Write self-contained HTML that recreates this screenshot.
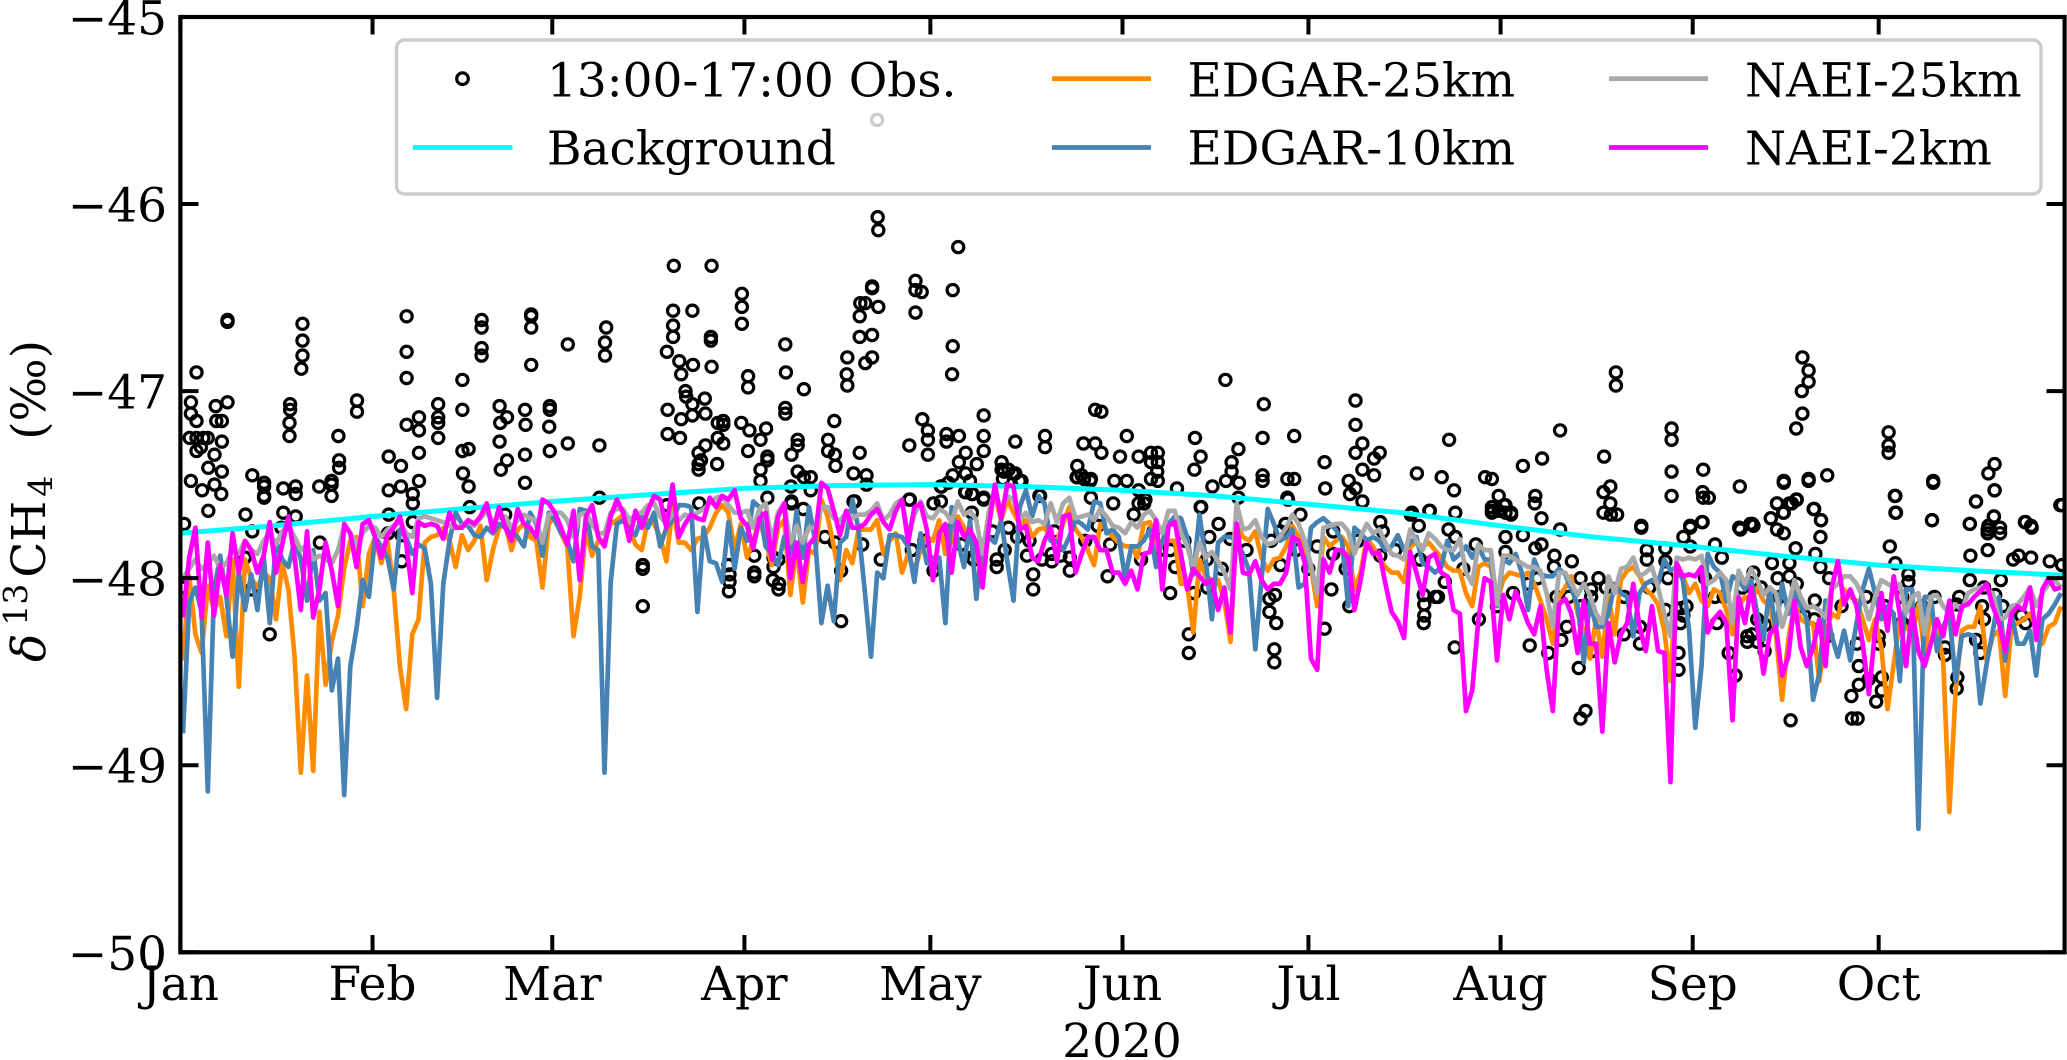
<!DOCTYPE html>
<html lang="en">
<head>
<meta charset="utf-8">
<title>δ13CH4 observations and model series, 2020</title>
<style>
html,body{margin:0;padding:0;background:#fff;}
svg{display:block;}
text{font-family:"DejaVu Serif","Liberation Serif",serif;fill:#000;}
</style>
</head>
<body>
<svg id="chart" xmlns="http://www.w3.org/2000/svg" width="2067" height="1060" viewBox="0 0 2067 1060">
  <defs><clipPath id="plot-clip"><rect x="180.4" y="17" width="1884.2" height="935.3"/></clipPath></defs>
  <g id="obs-layer" clip-path="url(#plot-clip)"></g>
  <g id="line-layer" clip-path="url(#plot-clip)"></g>
  <g id="tick-layer"></g>
  <rect x="180.4" y="17" width="1884.2" height="935.3" fill="none" stroke="#000" stroke-width="4.2"/>
  <text x="45" y="501" transform="rotate(-90 45 501)" font-size="47" text-anchor="middle"><tspan font-style="italic">δ</tspan><tspan font-size="33" dy="-18" dx="8">13</tspan><tspan dy="18" dx="6">CH</tspan><tspan font-size="33" dy="7" dx="4">4</tspan><tspan dy="-7" dx="21"> (‰)</tspan></text>
  <text x="1122" y="1057" font-size="47" text-anchor="middle">2020</text>
  <g>
    <rect x="396.5" y="40" width="1644.5" height="154" rx="8" ry="8" fill="#fff" fill-opacity="0.8" stroke="#cccccc" stroke-width="3.4"/>
    <g>
      <circle cx="462.5" cy="78.7" r="5.8" fill="none" stroke="#000" stroke-width="3.2"/>
      <text x="547" y="96.3" font-size="47">13:00-17:00 Obs.</text>
    </g>
    <g>
      <line x1="413" x2="512.5" y1="147.5" y2="147.5" stroke="#00ffff" stroke-width="4.8"/>
      <text x="547" y="164.5" font-size="47">Background</text>
    </g>
    <g>
      <line x1="1052" x2="1151" y1="78.7" y2="78.7" stroke="#ff8c00" stroke-width="4.8"/>
      <text x="1187.5" y="96.3" font-size="47">EDGAR-25km</text>
    </g>
    <g>
      <line x1="1052" x2="1151" y1="147.5" y2="147.5" stroke="#4682b4" stroke-width="4.8"/>
      <text x="1187.5" y="164.5" font-size="47">EDGAR-10km</text>
    </g>
    <g>
      <line x1="1609" x2="1708" y1="78.7" y2="78.7" stroke="#a9a9a9" stroke-width="4.8"/>
      <text x="1745" y="96.3" font-size="47">NAEI-25km</text>
    </g>
    <g>
      <line x1="1609" x2="1708" y1="147.5" y2="147.5" stroke="#ff00ff" stroke-width="4.8"/>
      <text x="1745" y="164.5" font-size="47">NAEI-2km</text>
    </g>
  </g>
</svg>
<script>
const monthLabels=['Jan','Feb','Mar','Apr','May','Jun','Jul','Aug','Sep','Oct'];
const monthStartDays=[0,31,60,91,121,152,182,213,244,274];
const yTickValues=[-45,-46,-47,-48,-49,-50];
const yTickLabels=['−45','−46','−47','−48','−49','−50'];

const backgroundDays=[0,15,31,45,60,75,91,105,121,136,152,167,182,197,213,228,244,258,274,289,304];
const backgroundValues=[-47.76,-47.72,-47.67,-47.63,-47.59,-47.555,-47.52,-47.505,-47.5,-47.51,-47.53,-47.56,-47.605,-47.65,-47.72,-47.78,-47.83,-47.88,-47.93,-47.96,-47.985];

const edgar25kmValues=[
-48.44,-47.99,-48.3,-48.4,-48.04,-48.17,-48.1,-48.31,-47.9,-48.58,-47.9,-48.0,-48.05,-47.97,-48.0,-48.22,-47.92,-48.06,-48.42,-49.04,-48.52,-49.03,-48.18,-48.57,-48.34,-48.2,-47.95,-47.8,-47.78,-48.15,-47.87,
-47.78,-47.92,-47.8,-48.06,-48.47,-48.7,-48.3,-48.22,-47.81,-47.78,-47.77,-47.73,-47.8,-47.94,-47.77,-47.85,-47.8,-47.72,-48.01,-47.85,
-47.73,-47.71,-47.85,-47.74,-47.71,-47.78,-47.8,-48.05,-47.71,-47.67,-47.76,-47.83,-48.31,-48.1,-47.74,-47.88,-47.8,-47.8,-47.71,-47.69,-47.66,-47.73,-47.82,-47.85,-47.69,-47.71,-47.78,-47.91,-47.62,-47.81,-47.81,-47.85,-47.79,-47.78,-47.73,-47.65,-47.61,-47.65,-47.85,-47.71,-47.89,-47.8,-47.69,-47.8,-47.93,-47.73,-47.69,-48.09,-47.83,-48.13,-47.85,
-47.87,-47.58,-47.67,-47.83,-48.01,-47.85,-47.92,-47.74,-47.74,-47.74,-47.69,-47.87,-47.8,-47.76,-47.97,-47.87,-47.96,-47.85,-47.78,-47.8,-47.69,-47.87,-47.8,-47.67,-47.73,-47.78,-47.9,-47.94,-47.65,-47.56,-47.69,-47.58,-47.65,-47.71,-47.69,-47.78,-47.74,-47.73,-47.78,-47.8,-47.71,-47.62,-47.74,-47.78,-47.85,-47.93,-47.71,-47.74,-47.78,-47.81,-47.83,
-47.83,-47.89,-47.71,-47.7,-47.85,-47.81,-47.8,-47.8,-48.03,-48.03,-48.29,-47.9,-47.99,-48.01,-48.01,-48.12,-48.34,-47.71,-47.78,-47.8,-47.75,-47.89,-47.96,-47.9,-47.89,-47.83,-47.72,-47.78,-47.85,-47.94,-48.15,-47.78,-47.83,-47.8,-47.78,-47.83,-48.06,-47.97,-47.79,-47.83,-47.89,-47.94,-47.97,-47.97,-48.02,-47.83,-47.81,-47.83,-47.81,-47.85,-47.89,
-47.94,-47.96,-47.96,-48.08,-48.15,-47.94,-47.92,-47.94,-48.12,-48.01,-47.97,-47.98,-47.99,-47.97,-48.03,-48.12,-48.22,-48.35,-48.1,-48.05,-47.99,-48.19,-48.28,-48.43,-48.22,-48.42,-48.1,-48.3,-48.01,-47.96,-47.94,-47.99,-48.06,-48.09,-48.14,-48.28,-48.55,-47.94,-47.99,-48.08,-48.03,-48.12,-48.15,-48.06,-48.08,-48.17,-48.3,-48.15,-48.1,-48.12,
-48.05,-48.12,-48.15,-48.3,-48.65,-48.33,-48.14,-48.22,-48.24,-48.24,-48.55,-48.3,-48.19,-48.21,-48.06,-48.1,-48.12,-48.22,-48.33,-48.22,-48.37,-48.7,-48.46,-48.22,-48.26,-48.3,-48.14,-48.4,-48.19,-48.28,-48.44,-49.25,-48.6,-48.28,-48.26,-48.26,-48.15,-48.44,-48.31,-48.28,-48.63,-48.26,-48.24,-48.22,-48.19,-48.26,-48.35,-48.26,-48.24,-48.15];

const edgar10kmValues=[
-48.83,-48.13,-48.05,-48.18,-49.14,-48.07,-47.88,-48.1,-48.42,-47.97,-48.17,-47.98,-48.17,-47.88,-48.24,-47.8,-47.9,-47.94,-47.8,-47.9,-48.12,-47.85,-48.12,-48.08,-48.6,-48.43,-49.16,-48.47,-48.27,-48.01,-48.1,
-47.78,-47.83,-47.89,-48.06,-47.74,-47.78,-47.87,-47.82,-47.84,-48.03,-48.64,-48.03,-47.8,-47.65,-47.71,-47.72,-47.77,-47.78,-47.73,-47.76,
-47.71,-47.73,-47.75,-47.78,-47.83,-47.65,-47.71,-47.88,-47.65,-47.69,-47.76,-47.8,-47.91,-47.63,-47.64,-47.83,-47.85,-49.04,-48.02,-47.71,-47.69,-47.74,-47.77,-47.67,-47.73,-47.65,-47.83,-47.73,-47.69,-47.61,-47.61,-47.62,-48.18,-47.73,-47.91,-47.92,-48.02,-47.7,-47.95,-47.73,-47.8,-47.59,-47.62,-47.83,-47.87,-47.93,-47.78,-47.92,-47.64,-47.89,-47.62,
-47.8,-48.24,-48.04,-48.23,-47.81,-47.78,-47.58,-47.74,-48.07,-48.42,-47.97,-48.0,-47.77,-47.77,-47.78,-47.83,-48.02,-47.76,-47.92,-47.89,-47.89,-48.24,-47.62,-47.8,-47.94,-47.69,-48.11,-47.8,-47.78,-47.81,-47.69,-47.91,-48.12,-47.62,-47.53,-47.67,-47.56,-47.6,-47.8,-47.8,-47.85,-47.78,-47.69,-47.71,-47.74,-47.59,-47.6,-47.76,-47.74,-47.78,-48.0,
-47.83,-47.83,-47.8,-47.74,-47.94,-47.8,-47.71,-47.67,-47.68,-47.78,-47.98,-47.66,-47.9,-48.22,-47.81,-47.78,-47.78,-47.8,-47.87,-47.96,-48.38,-48.01,-47.63,-47.71,-47.8,-47.78,-47.74,-48.05,-48.03,-47.73,-47.7,-47.68,-47.71,-47.74,-47.8,-48.15,-47.73,-47.76,-47.8,-47.78,-47.8,-47.85,-47.83,-47.77,-47.85,-47.81,-47.78,-47.92,-47.94,-47.97,-47.94,
-47.8,-47.9,-47.87,-47.83,-47.89,-47.83,-47.9,-47.9,-48.15,-47.9,-47.92,-47.87,-47.97,-48.17,-47.9,-47.98,-47.99,-47.99,-47.95,-47.98,-48.06,-48.14,-48.45,-48.12,-48.26,-48.26,-48.19,-48.03,-48.08,-48.1,-48.31,-48.08,-48.03,-48.01,-48.03,-47.9,-47.96,-47.94,-48.01,-48.28,-48.8,-48.47,-47.87,-47.94,-47.97,-48.12,-47.99,-48.01,-48.06,-48.01,
-48.19,-48.33,-48.05,-48.28,-48.03,-48.19,-48.06,-48.15,-48.22,-48.65,-48.51,-48.12,-48.31,-48.42,-48.28,-48.44,-48.24,-48.06,-47.95,-48.08,-48.22,-48.15,-48.19,-48.55,-48.06,-48.06,-49.34,-48.1,-48.1,-48.39,-48.26,-48.19,-48.55,-48.31,-48.3,-48.31,-48.67,-48.46,-48.28,-48.1,-48.44,-48.19,-48.35,-48.35,-48.28,-48.52,-48.22,-48.19,-48.14,-48.08];

const naei25kmValues=[
-48.0,-47.95,-47.9,-47.95,-47.92,-47.88,-47.95,-47.92,-47.85,-47.87,-47.8,-47.85,-47.87,-47.8,-47.76,-47.82,-47.75,-47.72,-47.78,-47.85,-47.82,-47.9,-47.88,-47.9,-47.92,-47.85,-47.72,-47.76,-47.82,-47.76,-47.72,
-47.73,-47.78,-47.74,-47.72,-47.7,-47.76,-47.78,-47.68,-47.67,-47.68,-47.69,-47.7,-47.72,-47.73,-47.72,-47.7,-47.72,-47.68,-47.64,-47.7,
-47.67,-47.67,-47.73,-47.69,-47.66,-47.68,-47.69,-47.81,-47.66,-47.65,-47.65,-47.69,-47.78,-47.66,-47.65,-47.71,-47.76,-47.76,-47.65,-47.63,-47.63,-47.69,-47.66,-47.65,-47.61,-47.6,-47.67,-47.71,-47.65,-47.69,-47.66,-47.67,-47.65,-47.63,-47.6,-47.57,-47.56,-47.61,-47.65,-47.65,-47.64,-47.73,-47.63,-47.6,-47.81,-47.65,-47.6,-47.81,-47.72,-47.81,-47.73,
-47.73,-47.62,-47.62,-47.68,-47.69,-47.65,-47.68,-47.66,-47.66,-47.64,-47.6,-47.69,-47.66,-47.6,-47.58,-47.78,-47.66,-47.59,-47.67,-47.68,-47.63,-47.65,-47.7,-47.59,-47.66,-47.64,-47.69,-47.87,-47.65,-47.53,-47.64,-47.56,-47.58,-47.69,-47.65,-47.7,-47.69,-47.71,-47.6,-47.7,-47.6,-47.57,-47.68,-47.67,-47.66,-47.69,-47.63,-47.67,-47.72,-47.73,-47.76,
-47.7,-47.73,-47.66,-47.64,-47.69,-47.76,-47.64,-47.64,-47.76,-47.83,-47.94,-47.81,-47.89,-47.86,-47.91,-47.97,-48.06,-47.6,-47.74,-47.73,-47.69,-47.78,-47.82,-47.81,-47.78,-47.73,-47.66,-47.71,-47.8,-47.93,-48.08,-47.73,-47.72,-47.71,-47.71,-47.75,-47.87,-47.78,-47.71,-47.76,-47.74,-47.81,-47.87,-47.88,-47.9,-47.74,-47.8,-47.85,-47.76,-47.79,-47.83,
-47.85,-47.85,-47.79,-47.97,-48.03,-47.82,-47.85,-47.85,-48.14,-47.88,-47.88,-47.9,-47.92,-47.94,-47.94,-47.96,-48.08,-48.26,-47.97,-47.97,-48.03,-48.09,-48.03,-48.09,-48.19,-48.24,-47.99,-48.08,-47.95,-47.94,-47.89,-47.99,-47.97,-47.94,-48.05,-48.19,-48.31,-47.89,-47.9,-47.89,-47.9,-47.88,-48.03,-48.01,-47.97,-48.01,-48.24,-47.96,-48.03,-47.95,
-48.01,-48.09,-48.05,-48.08,-48.26,-48.15,-48.01,-48.1,-48.16,-48.15,-48.17,-48.21,-48.06,-48.03,-47.99,-47.99,-48.03,-48.1,-48.22,-48.1,-48.01,-48.03,-48.05,-48.03,-48.19,-48.1,-48.08,-48.3,-48.1,-48.09,-48.15,-48.19,-48.14,-48.17,-48.08,-48.06,-48.05,-48.06,-48.08,-48.22,-48.21,-48.15,-48.14,-48.1,-48.05,-48.15,-48.08,-48.03,-48.01,-48.05];

const naei2kmValues=[
-48.21,-47.89,-47.73,-48.21,-47.81,-48.2,-47.93,-48.09,-47.76,-47.97,-47.8,-47.85,-47.97,-47.88,-47.7,-47.97,-47.82,-47.67,-47.89,-48.17,-47.75,-48.21,-48.06,-47.81,-47.96,-48.15,-47.71,-47.76,-47.94,-47.71,-47.69,
-47.78,-47.89,-47.77,-47.73,-47.67,-47.81,-48.08,-47.7,-47.72,-47.71,-47.72,-47.79,-47.65,-47.73,-47.73,-47.69,-47.71,-47.67,-47.6,-47.75,
-47.62,-47.73,-47.8,-47.63,-47.71,-47.73,-47.78,-47.58,-47.6,-47.65,-47.73,-47.82,-47.64,-48.01,-47.67,-47.61,-47.78,-47.83,-47.67,-47.58,-47.65,-47.8,-47.64,-47.73,-47.64,-47.56,-47.58,-47.73,-47.5,-47.78,-47.71,-47.66,-47.68,-47.69,-47.57,-47.62,-47.56,-47.58,-47.53,-47.68,-47.72,-47.84,-47.68,-47.65,-47.9,-47.67,-47.6,-48.0,-47.81,-48.02,-47.82,
-47.78,-47.49,-47.52,-47.64,-47.77,-47.64,-47.73,-47.73,-47.71,-47.66,-47.63,-47.7,-47.74,-47.64,-47.58,-47.81,-47.62,-47.6,-47.74,-48.01,-47.76,-47.71,-47.97,-47.7,-47.78,-47.74,-47.81,-48.05,-47.73,-47.5,-47.68,-47.5,-47.51,-47.74,-47.72,-47.89,-47.91,-47.8,-47.73,-47.91,-47.67,-47.66,-47.97,-47.87,-47.78,-47.78,-47.85,-47.85,-47.97,-47.97,-48.03,
-47.96,-48.06,-47.87,-47.86,-47.69,-48.06,-47.72,-47.7,-47.87,-48.06,-47.95,-47.99,-48.03,-48.01,-48.17,-48.05,-48.29,-47.71,-47.97,-47.98,-47.91,-48.01,-48.06,-48.03,-48.03,-47.97,-47.78,-47.8,-47.92,-48.43,-48.49,-47.9,-47.97,-47.85,-47.85,-47.89,-48.17,-48.01,-47.81,-47.87,-47.86,-48.03,-48.18,-48.23,-48.32,-47.86,-47.97,-48.09,-47.89,-47.87,-47.97,
-47.99,-48.17,-48.19,-48.71,-48.6,-48.22,-48.0,-48.02,-48.44,-48.09,-48.22,-48.07,-48.15,-48.24,-48.3,-48.15,-48.49,-48.71,-48.14,-48.11,-48.19,-48.4,-48.12,-48.35,-48.35,-48.82,-48.24,-48.45,-48.3,-48.24,-48.03,-48.26,-48.39,-48.15,-48.39,-48.4,-49.09,-47.92,-47.99,-47.98,-47.99,-47.94,-48.29,-48.22,-48.18,-48.24,-48.76,-48.1,-48.24,-48.05,
-48.26,-48.51,-48.3,-48.26,-48.52,-48.42,-48.12,-48.37,-48.47,-48.37,-48.22,-48.47,-48.05,-47.91,-48.14,-48.06,-48.15,-48.35,-48.62,-48.28,-48.08,-48.28,-47.99,-48.19,-48.47,-48.17,-48.39,-48.47,-48.35,-48.22,-48.31,-48.12,-48.3,-48.15,-48.14,-48.1,-48.07,-48.03,-48.15,-48.24,-48.39,-48.19,-48.15,-48.17,-48.05,-48.33,-48.06,-48.0,-48.06,-48.05];

/* Observations as alternating day-of-year, value readings */
const obsDayValue=[
7.6,-46.62,7.6,-46.63,2.6,-46.9,1.7,-47.06,1.7,-47.12,2.6,-47.16,1.5,-47.25,2.6,-47.25,3.7,-47.25,4.4,-47.25,2.6,-47.32,3.3,-47.3,5.7,-47.08,7.6,-47.06,5.8,-47.16,6.7,-47.16,6.7,-47.27,5.5,-47.34,4.5,-47.41,6.7,-47.43,1.7,-47.48,3.5,-47.53,5.5,-47.5,6.6,-47.55,4.5,-47.64,0.6,-47.71,
11.6,-47.45,13.5,-47.49,13.5,-47.51,13.5,-47.56,13.5,-47.57,16.6,-47.52,18.6,-47.51,18.6,-47.55,22.4,-47.51,24.4,-47.48,24.4,-47.5,24.4,-47.56,
19.7,-46.64,19.7,-46.73,19.7,-46.81,19.5,-46.88,17.7,-47.07,17.7,-47.1,17.6,-47.17,17.6,-47.24,28.5,-47.05,28.5,-47.11,25.5,-47.24,25.6,-47.37,25.6,-47.41,
33.6,-47.35,35.6,-47.4,33.6,-47.53,35.6,-47.51,33.6,-47.66,37.5,-47.55,37.5,-47.6,37.5,-47.7,36.5,-46.6,36.5,-46.79,36.5,-46.93,36.5,-47.18,38.5,-47.14,38.5,-47.21,38.5,-47.33,38.5,-47.48,
41.6,-47.07,41.6,-47.14,41.6,-47.17,41.6,-47.25,48.6,-46.62,48.6,-46.66,48.6,-46.77,48.6,-46.81,45.5,-46.94,45.5,-47.1,45.5,-47.32,46.5,-47.31,45.6,-47.44,46.5,-47.51,46.7,-47.62,
56.6,-46.59,56.6,-46.6,56.6,-46.66,56.6,-46.86,51.5,-47.08,52.7,-47.14,51.6,-47.17,51.5,-47.27,52.7,-47.37,51.7,-47.42,55.6,-47.1,55.7,-47.18,55.6,-47.34,55.6,-47.49,59.6,-47.08,59.6,-47.1,59.5,-47.19,59.6,-47.32,
62.5,-46.75,62.5,-47.28,67.6,-47.29,67.6,-47.57,68.7,-46.66,68.5,-46.74,68.5,-46.81,
79.6,-46.33,79.5,-46.57,82.6,-46.57,79.5,-46.65,79.5,-46.71,78.5,-46.79,80.5,-46.84,82.7,-46.86,80.8,-46.91,81.5,-47.0,81.6,-47.03,82.6,-47.07,78.6,-47.1,80.8,-47.15,82.6,-47.13,78.6,-47.23,80.6,-47.25,83.6,-47.33,83.6,-47.39,83.6,-47.42,
112.5,-46.07,112.6,-46.14,125.5,-46.23,85.7,-46.33,118.6,-46.41,118.6,-46.46,119.6,-46.47,124.6,-46.46,118.6,-46.58,111.6,-46.44,111.6,-46.45,109.7,-46.53,110.5,-46.53,112.6,-46.55,109.6,-46.6,109.6,-46.71,111.6,-46.7,111.6,-46.82,110.5,-46.85,107.6,-46.82,107.5,-46.91,107.6,-46.97,124.6,-46.76,124.5,-46.91,
90.6,-46.48,90.6,-46.55,90.6,-46.64,85.6,-46.71,85.6,-46.73,85.7,-46.87,91.6,-46.92,91.6,-46.98,97.6,-46.75,97.7,-46.9,100.6,-46.99,97.6,-47.09,97.6,-47.12,84.6,-47.04,84.7,-47.12,86.7,-47.17,87.6,-47.16,87.6,-47.18,90.5,-47.17,91.8,-47.21,94.5,-47.2,93.6,-47.26,91.6,-47.32,86.7,-47.25,87.6,-47.28,84.7,-47.29,86.6,-47.39,84,-47.37,94.7,-47.35,94.7,-47.37,93.6,-47.42,93.6,-47.48,94.7,-47.57,
99.6,-47.26,99.6,-47.29,98.6,-47.34,99.6,-47.43,100.6,-47.46,101.7,-47.46,98.5,-47.51,101.7,-47.53,98.6,-47.6,105.5,-47.16,104.5,-47.26,104.5,-47.32,105.6,-47.34,105.7,-47.4,108.6,-47.44,109.6,-47.33,110.7,-47.45,110.7,-47.5,108.6,-47.59,
119.7,-47.15,120.6,-47.21,120.6,-47.26,117.6,-47.29,120.6,-47.34,123.6,-47.23,123.6,-47.27,125.6,-47.24,129.6,-47.13,129.6,-47.24,129.6,-47.32,126.7,-47.33,125.6,-47.38,128.5,-47.39,124.6,-47.45,126.7,-47.44,122.8,-47.51,127.4,-47.48,117.6,-47.58,126.7,-47.54,127.8,-47.55,129.6,-47.57,
134.7,-47.27,139.5,-47.24,139.5,-47.3,132.5,-47.38,132.9,-47.43,132.7,-47.47,134.3,-47.44,135.4,-47.48,138.6,-47.56,147.6,-47.1,148.6,-47.11,145.7,-47.28,147.6,-47.28,148.6,-47.33,152.7,-47.24,151.6,-47.35,154.6,-47.35,156.6,-47.33,157.7,-47.33,156.6,-47.38,157.7,-47.38,157.6,-47.43,144.7,-47.4,144.7,-47.46,145.8,-47.47,146.9,-47.47,150.7,-47.48,152.7,-47.48,156.6,-47.47,157.7,-47.48,154.6,-47.53,146.9,-47.57,150.5,-47.6,155.5,-47.6,
163.7,-47.25,164.6,-47.35,163.6,-47.42,170.7,-47.31,169.6,-47.38,169.6,-47.43,168.7,-47.48,170.8,-47.49,160.8,-47.52,166.5,-47.51,164.7,-47.62,168.6,-46.94,174.8,-47.07,174.6,-47.25,179.7,-47.24,174.6,-47.45,174.6,-47.48,178.6,-47.47,179.7,-47.47,184.6,-47.38,184.7,-47.52,178.6,-47.57,170.7,-47.57,
189.6,-47.05,189.6,-47.18,190.7,-47.28,189.6,-47.33,193.5,-47.33,192.6,-47.36,190.7,-47.42,192.6,-47.45,188.5,-47.48,189.6,-47.52,188.7,-47.55,190.7,-47.59,
204.7,-47.26,222.6,-47.21,219.7,-47.36,216.6,-47.4,199.5,-47.44,203.5,-47.46,210.5,-47.46,211.6,-47.47,205.5,-47.53,212.7,-47.56,218.6,-47.56,218.5,-47.6,201.5,-47.64,205.7,-47.65,211.6,-47.64,213.6,-47.61,214.7,-47.66,219.6,-47.68,198.5,-47.66,
231.6,-46.9,231.6,-46.97,261.7,-46.82,262.7,-46.89,262.7,-46.95,261.6,-47.0,261.7,-47.12,260.7,-47.2,240.6,-47.2,240.6,-47.26,229.7,-47.35,240.6,-47.43,245.7,-47.42,240.6,-47.56,245.6,-47.54,245.7,-47.57,246.6,-47.57,230.7,-47.51,229.6,-47.54,230.7,-47.6,229.6,-47.65,230.8,-47.66,231.8,-47.66,251.6,-47.51,258.7,-47.48,262.7,-47.47,265.7,-47.45,260.7,-47.58,259.6,-47.6,257.6,-47.6,258.6,-47.65,263.6,-47.63,264.7,-47.69,256.6,-47.68,
275.6,-47.22,275.6,-47.29,275.6,-47.33,292.7,-47.39,291.7,-47.44,292.7,-47.53,282.8,-47.48,276.6,-47.56,276.7,-47.65,289.7,-47.59,292.6,-47.67,282.6,-47.69,288.7,-47.71,297.6,-47.7,303.6,-47.61,298.6,-47.72,293.6,-47.73,291.7,-47.72,245.6,-47.7,235.7,-47.72,243.6,-47.72,251.5,-47.73,253.6,-47.71,
112.4,-45.55,
10.5,-47.66,16.6,-47.65,18.6,-47.67,22.5,-47.81,35.7,-47.91,33.5,-47.76,35.7,-47.77,11.6,-47.75,10.4,-47.89,16.3,-47.73,0.7,-48.05,11.5,-48.06,14.4,-48.3,74.6,-47.93,74.6,-47.95,74.6,-48.15,
52.4,-47.66,78.5,-47.61,83.7,-47.6,98.6,-47.59,100.5,-47.63,88.4,-47.93,88.6,-47.98,88.6,-48.02,88.5,-48.07,92.6,-47.88,92.6,-47.97,92.6,-47.99,95.7,-47.89,95.7,-47.94,96.5,-47.9,95.6,-48.01,96.6,-48.03,96.5,-48.06,
132.5,-47.42,133.6,-47.42,134.7,-47.44,135.7,-47.48,144.6,-47.46,145.4,-47.45,146.8,-47.48,122.7,-47.51,123.9,-47.49,126.6,-47.54,129.6,-47.58,127.7,-47.55,117.7,-47.58,108.8,-47.59,121.5,-47.6,122.7,-47.59,138.7,-47.56,127.7,-47.65,106.6,-47.96,106.6,-48.23,121.5,-47.96,131.7,-47.9,131.7,-47.94,137.6,-47.98,137.6,-48.06,140.6,-47.87,140.6,-47.91,143.5,-47.89,143.5,-47.96,149.6,-47.99,136.6,-47.88,127.7,-47.89,105.6,-47.81,133.6,-47.73,
155.7,-47.58,154.6,-47.6,164.6,-47.62,153.8,-47.66,167.5,-47.71,178.7,-47.58,198.7,-47.65,201.6,-47.64,199.8,-47.72,193.6,-47.7,180.7,-47.66,178.3,-47.71,177.5,-47.75,159.7,-48.08,163.5,-48.08,162.7,-48.3,162.7,-48.4,165.7,-48.05,176.6,-48.09,175.7,-48.11,175.7,-48.18,176.8,-48.24,176.5,-48.38,176.5,-48.45,185.7,-48.06,184.6,-48.27,188.6,-48.15,200.6,-48.09,200.7,-48.14,200.7,-48.2,200.6,-48.24,202.5,-48.1,160.5,-47.94,159.7,-47.85,165.6,-47.9,169.4,-47.79,177.5,-47.93,183.4,-47.83,186,-47.87,193.6,-47.88,
211.6,-47.62,211.6,-47.65,212.7,-47.64,213.8,-47.61,213.8,-47.65,214.7,-47.65,204.6,-47.74,222.6,-47.74,235.7,-47.73,245.5,-47.7,243.6,-47.73,242.5,-47.78,251.7,-47.74,253.3,-47.71,213.8,-47.78,216.6,-47.77,205.7,-47.78,219.6,-47.82,218.6,-47.84,221.7,-47.88,224.5,-47.91,236.6,-47.85,236.6,-47.9,239.6,-47.84,239.6,-47.91,243.6,-47.83,247.6,-47.82,248.7,-47.89,221.6,-47.94,225.9,-48,228.8,-48,213.8,-47.86,
202.9,-48.1,209.5,-48.22,205.6,-48.37,217.7,-48.36,220.7,-48.4,222.8,-48.33,223.7,-48.26,225.6,-48.48,226.7,-48.71,225.9,-48.75,232.9,-48.3,235.5,-48.35,241.7,-48.4,241.7,-48.49,249.8,-48.4,250.9,-48.52,252.8,-48.31,252.8,-48.34,247.9,-48.24,242.2,-48.16,242.5,-48.2,242,-48.24,227.6,-48.06,227.6,-48.1,224,-48.1,217.5,-48.03,212.4,-48.15,247.6,-48.1,239.6,-48.17,235.5,-48.26,227.7,-48.39,
258.7,-47.49,262.7,-47.48,282.8,-47.49,276.7,-47.56,276.8,-47.65,282.6,-47.69,292.7,-47.53,289.7,-47.59,292.6,-47.67,288.7,-47.71,291.6,-47.74,291.6,-47.76,293.6,-47.76,297.7,-47.7,298.7,-47.73,303.3,-47.61,257.6,-47.6,260,-47.6,260.8,-47.58,256.6,-47.68,258.7,-47.65,263.5,-47.63,264.7,-47.69,253.8,-47.72,257.6,-47.74,258.7,-47.76,260.6,-47.84,264.6,-47.78,263.8,-47.87,264.6,-47.94,256.8,-47.92,259.6,-47.92,275.8,-47.83,276.7,-47.92,288.8,-47.88,291.6,-47.85,295.7,-47.9,296.6,-47.88,298.6,-47.89,301.6,-47.91,303.6,-47.93,288.7,-48.01,293.7,-48.01,278.8,-47.98,278.8,-48.02,277.8,-48.1,257.7,-48,259.6,-47.99,260.8,-48.03,253.8,-47.97,
263.7,-48.12,263.6,-48.22,265.7,-48.31,254.4,-48.22,255.7,-48.25,253.6,-48.3,254.4,-48.34,255.6,-48.39,286.6,-48.14,290.7,-48.15,289.7,-48.33,290.4,-48.4,292.8,-48.09,284.7,-48.41,286.7,-48.53,286.6,-48.59,270.8,-48.47,270.8,-48.57,269.6,-48.63,273.6,-48.66,274.5,-48.53,274.5,-48.6,272.4,-48.54,269.7,-48.75,270.6,-48.75,259.8,-48.76,270.5,-48.35,274,-48.31,274,-48.35,284.7,-48.37,291,-48.22,297.7,-48.24,277.8,-48.24,
104,-47.78,110,-47.82,113,-47.9,118,-47.85,120,-47.8,124,-47.75,126,-47.82,128,-47.9,131,-47.75,133,-47.85,135,-47.78,137,-47.8,139,-47.9,141,-47.75,142,-47.88,146,-47.8,148,-47.72,150,-47.82,155,-47.9,157,-47.75,158,-47.85,162,-47.8,166,-47.78,168,-47.95,172,-47.85,176,-47.8,180,-47.85,182,-47.95,186,-47.75,188,-47.95,190,-47.8,194,-47.75,196,-47.85,200,-47.9,204,-48.02,207,-47.95,209,-47.82,215,-48.08,219,-48.0,222,-48.1,226,-48.15,230,-48.05,233,-48.1,237,-48.05,240,-48.0,243,-48.15,246,-48.0,249,-48.1,252,-48.05,255,-48.05,258,-48.1,262,-48.2,266,-48.0,268,-48.15,272,-48.1,275,-48.15,279,-48.2,281,-48.15,283,-48.1,287,-48.1,291,-48.05,294,-48.15,297,-48.2
];

const NS='http://www.w3.org/2000/svg';
const xScale=function(day){return 180.4+day*6.198;};
const yScale=function(value){return 17+(-45-value)*187.06;};
const lineDayOffset=0.42;

const obsLayer=document.getElementById('obs-layer');
for(let i=0;i+1<obsDayValue.length;i+=2){
  const c=document.createElementNS(NS,'circle');
  
  
  c.setAttribute('cx',xScale(obsDayValue[i]).toFixed(1));
  c.setAttribute('cy',yScale(obsDayValue[i+1]).toFixed(1));
  c.setAttribute('r','5.6');
  c.setAttribute('fill','none');
  c.setAttribute('stroke','#000');
  c.setAttribute('stroke-width','3.2');
  obsLayer.appendChild(c);
}

const lineLayer=document.getElementById('line-layer');
function addLine(name,color,days,values,width){
  const p=document.createElementNS(NS,'polyline');
  
  
  let pts=[];
  for(let i=0;i<values.length;i++){
    pts.push(xScale(days(i)).toFixed(1)+','+yScale(values[i]).toFixed(1));
  }
  p.setAttribute('points',pts.join(' '));
  p.setAttribute('fill','none');
  p.setAttribute('stroke',color);
  p.setAttribute('stroke-width',width);
  p.setAttribute('stroke-linejoin','round');
  lineLayer.appendChild(p);
}
const dailyDay=function(i){return i+lineDayOffset;};
addLine('background-line','#00ffff',function(i){return backgroundDays[i];},backgroundValues,'5');
addLine('edgar-25km-line','#ff8c00',dailyDay,edgar25kmValues,'4.7');
addLine('edgar-10km-line','#4682b4',dailyDay,edgar10kmValues,'4.7');
addLine('naei-25km-line','#a9a9a9',dailyDay,naei25kmValues,'4.7');
addLine('naei-2km-line','#ff00ff',dailyDay,naei2kmValues,'4.7');

const tickLayer=document.getElementById('tick-layer');
function addTick(name,x1,y1,x2,y2){
  const l=document.createElementNS(NS,'line');
  
  
  l.setAttribute('x1',x1);l.setAttribute('y1',y1);l.setAttribute('x2',x2);l.setAttribute('y2',y2);
  l.setAttribute('stroke','#000');
  l.setAttribute('stroke-width','4');
  tickLayer.appendChild(l);
}
function addLabel(name,text,x,y,anchor){
  const t=document.createElementNS(NS,'text');
  
  
  t.setAttribute('x',x);t.setAttribute('y',y);
  t.setAttribute('font-size','47');
  t.setAttribute('text-anchor',anchor);
  t.textContent=text;
  tickLayer.appendChild(t);
}
monthStartDays.forEach(function(day,i){
  const x=xScale(day);
  addTick('x-tick-bottom',x,952.3,x,935);
  addTick('x-tick-top',x,17,x,34.5);
  addLabel('x-tick-label',monthLabels[i],x,1000,'middle');
});
yTickValues.forEach(function(v,i){
  const y=yScale(v);
  addTick('y-tick-left',180.4,y,198.5,y);
  addTick('y-tick-right',2064.6,y,2046.5,y);
  addLabel('y-tick-label',yTickLabels[i],167,y+17.5,'end');
});
</script>
</body>
</html>
